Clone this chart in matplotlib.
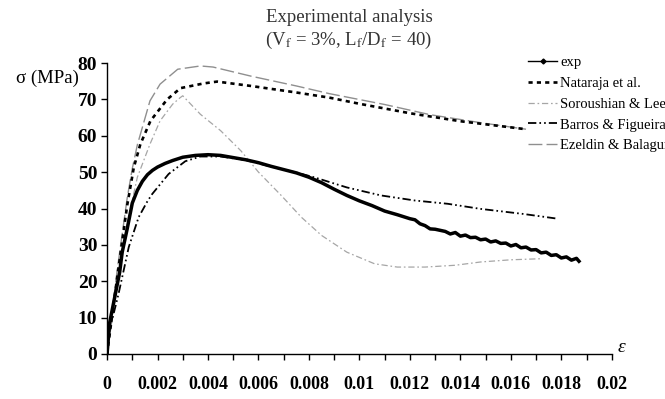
# stress_strain_models.py
# Compares experimental stress-strain curve of SFRC with analytical models.

import matplotlib
matplotlib.use("Agg")
import matplotlib.pyplot as plt
from matplotlib.lines import Line2D

# ---- data (strain, stress in MPa) ----
exp_eps = [0, 0.0001, 0.0002, 0.0003, 0.0004, 0.0005, 0.0006, 0.0008, 0.001,
           0.0012, 0.0014, 0.0016, 0.0018, 0.002, 0.0023, 0.0026, 0.003,
           0.0035, 0.004, 0.0045, 0.005, 0.0055, 0.006, 0.0065, 0.007,
           0.0075, 0.008, 0.0085, 0.009, 0.0095, 0.010, 0.0105, 0.011,
           0.0115, 0.0120, 0.0122, 0.0124, 0.0126, 0.0128, 0.0130, 0.0132,
           0.0134, 0.0136, 0.0138, 0.0140, 0.0142, 0.0144, 0.0146, 0.0148,
           0.0150, 0.0152, 0.0154, 0.0156, 0.0158, 0.0160, 0.0162, 0.0164,
           0.0166, 0.0168, 0.0170, 0.0172, 0.0174, 0.0176, 0.0178, 0.0180,
           0.0182, 0.0184, 0.0186, 0.0187]
exp_sig = [0, 8.5, 12.0, 15.5, 19.0, 22.5, 28.0, 34.5, 41.5,
           45.0, 47.5, 49.3, 50.5, 51.4, 52.4, 53.2, 54.1,
           54.6, 54.8, 54.6, 54.0, 53.4, 52.6, 51.6, 50.7,
           49.8, 48.6, 47.1, 45.3, 43.6, 42.1, 40.8, 39.3,
           38.3, 37.2, 36.9, 35.8, 35.3, 34.4, 34.3, 34.0,
           33.7, 33.0, 33.4, 32.4, 32.7, 32.0, 32.1, 31.4,
           31.6, 30.8, 31.1, 30.4, 30.5, 29.7, 30.1, 29.2,
           29.4, 28.6, 28.7, 27.8, 28.0, 27.1, 27.3, 26.4,
           26.7, 25.8, 26.3, 25.5]

nat_eps = [0, 0.0004, 0.0008, 0.00106, 0.00132, 0.00172, 0.00238, 0.00291,
           0.00383, 0.00436, 0.0057, 0.0075, 0.0088, 0.010, 0.012, 0.014, 0.0166]
nat_sig = [0, 21.0, 41.0, 51.3, 57.7, 64.1, 70.0, 73.1,
           74.4, 74.9, 73.7, 71.9, 70.5, 68.8, 66.2, 64.0, 61.8]

sor_eps = [0, 0.0004, 0.0008, 0.0012, 0.0017, 0.0021, 0.0026, 0.0029, 0.003,
           0.0037, 0.0045, 0.0053, 0.006, 0.0069, 0.0077, 0.0085, 0.0095,
           0.0106, 0.0115, 0.0126, 0.0138, 0.0148, 0.0160, 0.0172]
sor_sig = [0, 19.0, 36.0, 48.6, 57.7, 64.1, 68.7, 70.5, 71.0,
           65.9, 61.4, 55.9, 50.0, 43.6, 37.6, 32.6, 28.0,
           24.8, 23.9, 23.9, 24.4, 25.3, 25.9, 26.2]

bar_eps = [0, 0.00007, 0.00046, 0.00086, 0.00125, 0.0016, 0.00179, 0.00244,
           0.0031, 0.0037, 0.0045, 0.0055, 0.0065, 0.0075, 0.0082, 0.0095,
           0.01085, 0.0122, 0.0135, 0.0148, 0.0165, 0.01785]
bar_sig = [0, 5.7, 16.7, 29.4, 37.6, 42.0, 44.0, 49.5,
           53.0, 54.3, 54.3, 53.3, 51.5, 49.9, 48.6, 45.8,
           43.6, 42.2, 41.3, 39.9, 38.5, 37.2]

eze_eps = [0, 0.0004, 0.0008, 0.001, 0.0012, 0.0017, 0.0021, 0.0028,
           0.0037, 0.0042, 0.0057, 0.0075, 0.0088, 0.011, 0.0128, 0.0148, 0.0166]
eze_sig = [0, 23.0, 43.0, 51.0, 57.5, 69.6, 74.2, 78.3,
           79.2, 78.9, 76.4, 73.7, 71.6, 68.6, 65.8, 63.6, 61.8]

labels = ["exp", "Nataraja et al.", "Soroushian & Lee",
          "Barros & Figueiras", "Ezeldin & Balaguru"]

x_tick_labels = ["0", "0.002", "0.004", "0.006", "0.008", "0.01",
                 "0.012", "0.014", "0.016", "0.018", "0.02"]
y_ticks = [0, 10, 20, 30, 40, 50, 60, 70, 80]

plt.rcParams["font.family"] = "Liberation Serif"
plt.rcParams["mathtext.fontset"] = "stix"
plt.rcParams["lines.scale_dashes"] = False

fig = plt.figure(figsize=(6.65, 3.99), dpi=100)
ax = fig.add_axes([0.161, 0.1128, 0.759, 0.7292])

# styles
sty = {
    "exp": dict(color="black", lw=2.5, ls="-"),
    "nat": dict(color="black", lw=1.9, dashes=(3, 3)),
    "sor": dict(color="#a6a6a6", lw=0.9, dashes=(4.5, 2, 1.2, 2)),
    "bar": dict(color="black", lw=1.3, dashes=(6, 2.2, 1.2, 2.2, 1.2, 2.2)),
    "eze": dict(color="#8f8f8f", lw=1.0, dashes=(10, 3)),
}

ax.plot(eze_eps, eze_sig, **sty["eze"])
ax.plot(sor_eps, sor_sig, **sty["sor"])
ax.plot(nat_eps, nat_sig, **sty["nat"])
ax.plot(bar_eps, bar_sig, **sty["bar"])
ax.plot(exp_eps, exp_sig, **sty["exp"])

ax.set_xlim(0, 0.02)
ax.set_ylim(0, 80)
ax.set_xticks([i * 0.001 for i in range(21)])
ax.set_xticklabels([x_tick_labels[i // 2] if i % 2 == 0 else "" for i in range(21)])
ax.set_yticks(y_ticks)
ax.set_yticklabels([str(v) for v in y_ticks])
for s in ["top", "right"]:
    ax.spines[s].set_visible(False)
for s in ["left", "bottom"]:
    ax.spines[s].set_linewidth(1.0)
ax.tick_params(axis="x", direction="out", length=4, width=1.0, pad=12, labelsize=13)
ax.tick_params(axis="y", direction="out", length=4, width=1.0, pad=3, labelsize=14)
for t in ax.get_xticklabels() + ax.get_yticklabels():
    t.set_fontweight("bold")

# axis labels placed like the original
fig.text(47 / 665, 1 - 78 / 399, "σ (MPa)", ha="center", va="center", fontsize=13.5)
fig.text(621 / 665, 1 - 347 / 399, "ε", ha="center", va="center",
         fontsize=14, style="italic")

# title
fig.text(349 / 665, 1 - 17 / 399, "Experimental analysis", ha="center",
         va="center", fontsize=13.5, color="#333333")
fig.text(349 / 665, 1 - 40 / 399,
         r"(V$_\mathrm{f}$ = 3%, L$_\mathrm{f}$/D$_\mathrm{f}$ = 40)",
         ha="center", va="center", fontsize=13.5, color="#333333")

# legend with thin proxy for exp
handles = [
    Line2D([], [], color="black", lw=1.0, marker="D", markersize=2.5),
    Line2D([], [], **sty["nat"]),
    Line2D([], [], **sty["sor"]),
    Line2D([], [], **sty["bar"]),
    Line2D([], [], **sty["eze"]),
]
fig.legend(handles, labels, loc="upper left", bbox_to_anchor=(528 / 665, 1 - 56 / 399),
           frameon=False, fontsize=10.5, handlelength=2.0, handletextpad=0.2,
           labelspacing=0.52, borderpad=0, borderaxespad=0, numpoints=1)

fig.savefig("out.png", dpi=100)
